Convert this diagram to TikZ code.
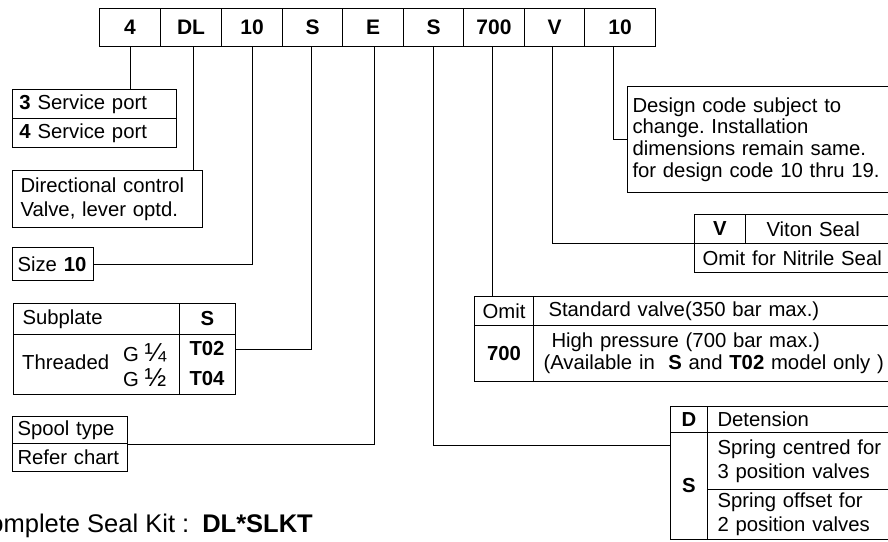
\documentclass[tikz,border=0pt]{standalone}
\usepackage{fontspec}
\setmainfont{Liberation Sans}
\frenchspacing
\begin{document}
\begin{tikzpicture}[x=1pt,y=-1pt,
  every node/.style={font=\fontsize{20.3}{21.7}\selectfont, inner sep=0pt},
  frame/.style={draw, line width=1pt},
  codecell/.style={frame, anchor=north west, minimum height=38pt, font=\fontsize{21}{24}\selectfont\bfseries},
  cellL/.style={frame, anchor=north west, align=left},
  cellC/.style={frame, anchor=north west, align=center},
  twoline/.style={font=\fontsize{20.3}{24}\selectfont},
  link/.style={line width=1pt}]
\useasboundingbox (0,0) rectangle (888,541);

% code row
\node[codecell, minimum width=61pt] (c1) at (99,8) {4};
\node[codecell, minimum width=61pt] (c2) at (160,8) {DL};
\node[codecell, minimum width=61pt] (c3) at (221,8) {10};
\node[codecell, minimum width=60pt] (c4) at (282,8) {S};
\node[codecell, minimum width=61pt] (c5) at (342,8) {E};
\node[codecell, minimum width=60pt] (c6) at (403,8) {S};
\node[codecell, minimum width=61pt] (c7) at (463,8) {700};
\node[codecell, minimum width=60pt] (c8) at (524,8) {V};
\node[codecell, minimum width=71pt] (c9) at (584,8) {10};

% left side
\node[cellL, text width=150pt, inner xsep=7pt, minimum height=29pt] (sp3) at (12,89) {\textbf{3} Service port};
\node[cellL, text width=150pt, inner xsep=7pt, minimum height=29pt] (sp4) at (12,118) {\textbf{4} Service port};
\node[cellL, twoline, text width=174pt, inner xsep=8pt, minimum height=57pt] (dcv) at (12,170) {Directional control\\Valve, lever optd.};
\node[cellL, text width=71pt, inner xsep=5pt, minimum height=33pt] (size) at (12,247) {\mbox{Size \textbf{10}}};

\node[cellL, text width=148pt, inner xsep=9pt, minimum height=31pt] (sub) at (13,303) {Subplate};
\node[cellC, text width=56pt, minimum height=31pt] (subS) at (179,303) {\textbf{S}};
\node[frame, anchor=north west, minimum width=166pt, minimum height=60pt] (thr) at (13,334) {};
\node[anchor=west] (thrt) at (22,362) {Threaded};
\node[anchor=west] (g14) at (123,353) {G {\fontsize{26}{26}\selectfont ¼}};
\node[anchor=west] (g12) at (123,378) {G {\fontsize{26}{26}\selectfont ½}};
\node[frame, anchor=north west, minimum width=56pt, minimum height=60pt] (tcode) at (179,334) {};
\node (t02) at (207,349) {\textbf{T02}};
\node (t04) at (207,379) {\textbf{T04}};

\node[cellL, text width=105pt, inner xsep=5pt, minimum height=27pt] (sty) at (12,416) {Spool type};
\node[cellL, text width=105pt, inner xsep=5pt, minimum height=28pt] (ref) at (12,443) {Refer chart};

\node[anchor=base east, font=\fontsize{25.5}{30}\selectfont] (kit) at (313,532) {Complete Seal Kit :\hspace{13pt}\textbf{DL*SLKT}};

% right side
\node[cellL, text width=253pt, inner xsep=5pt, minimum height=106pt] (dc) at (627,86) {Design code subject to\\change. Installation\\dimensions remain same.\\for design code 10 thru 19.};

\node[cellC, text width=51pt, minimum height=29pt] (vV) at (694,214) {\textbf{V}};
\node[cellL, text width=103pt, inner xsep=21pt, minimum height=29pt] (vit) at (745,214) {Viton Seal};
\node[cellL, text width=180pt, inner xsep=8pt, minimum height=29pt] (vom) at (694,243) {Omit for Nitrile Seal};

\node[cellC, text width=59pt, minimum height=29pt] (om1) at (474,296) {Omit};
\node[cellL, text width=327pt, inner xsep=15pt, minimum height=29pt] (std) at (533,296) {Standard valve(350 bar max.)};
\node[cellC, text width=59pt, minimum height=56pt] (om7) at (474,325) {\textbf{700}};
\node[cellL, text width=337pt, inner xsep=10pt, minimum height=56pt] (hp) at (533,325) {\hspace*{8pt}High pressure (700 bar max.)\\\mbox{(Available in \ \textbf{S} and \textbf{T02} model only )}};

\node[cellC, text width=37pt, minimum height=26pt] (dD) at (670,406) {\textbf{D}};
\node[cellL, text width=163pt, inner xsep=10pt, minimum height=26pt] (det) at (707,406) {Detension};
\node[cellC, text width=37pt, minimum height=107pt] (dS) at (670,432) {\textbf{S}};
\node[cellL, twoline, text width=163pt, inner xsep=10pt, minimum height=57pt] (sc) at (707,432) {\mbox{Spring centred for}\\3 position valves};
\node[cellL, twoline, text width=163pt, inner xsep=10pt, minimum height=50pt] (so) at (707,489) {Spring offset for\\2 position valves};

% connectors
\draw[link] (c1.south) -- (c1.south |- sp3.north);
\draw[link] ([xshift=2.5pt]c2.south) -- ([xshift=2.5pt]c2.south |- dcv.north);
\draw[link] (c3.south) |- (size.east);
\draw[link] ([xshift=-1pt]c4.south) |- (tcode.east |- t02.center);
\draw[link] ([xshift=1.5pt]c5.south) |- (sty.south east);
\draw[link] (c6.south) |- ([yshift=-13pt]dS.north west);
\draw[link] ([xshift=-1.5pt]c7.south) -- ([xshift=-1.5pt]c7.south |- om1.north);
\draw[link] ([xshift=-2pt]c8.south) |- (vom.north west);
\draw[link] ([xshift=-6.5pt]c9.south) |- (dc.west);
\end{tikzpicture}
\end{document}
